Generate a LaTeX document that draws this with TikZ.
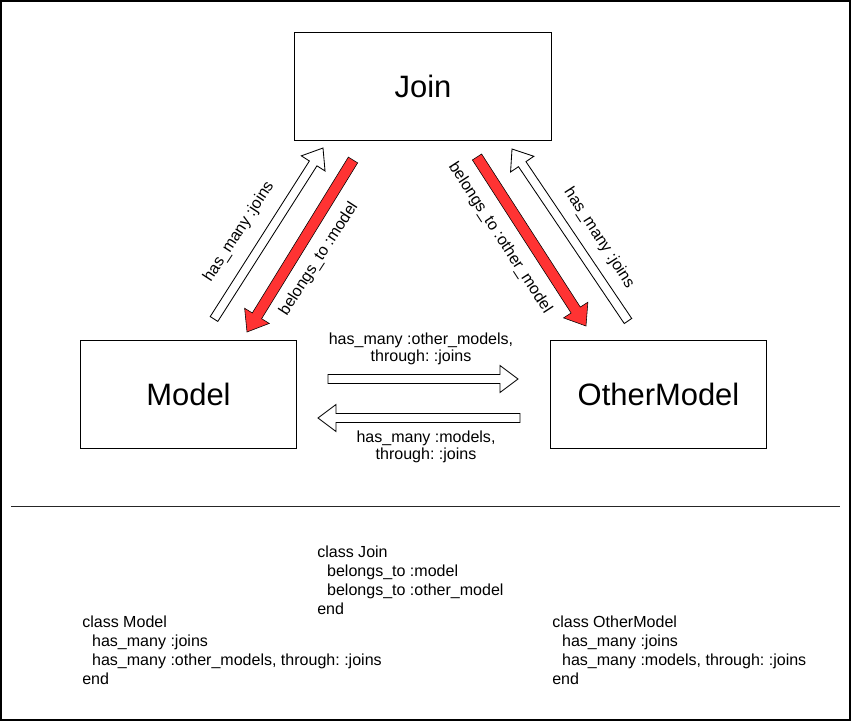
\documentclass[tikz,border=0pt]{standalone}
\usepackage{fontspec}
\setmainfont{Liberation Sans}
\usetikzlibrary{calc}
\definecolor{belongsred}{RGB}{255,51,51}
\frenchspacing

% block arrow: [style]{tail}{tip}{half shaft}{half head}{head length}
\newcommand{\blockarrow}[6][]{%
  \coordinate (headbase) at ($(#3)!#6!(#2)$);
  \draw[#1] ($(#2)!#4!90:(#3)$) -- ($(headbase)!#4!-90:(#2)$) -- ($(headbase)!#5!-90:(#2)$) -- (#3)
    -- ($(headbase)!#5!90:(#2)$) -- ($(headbase)!#4!90:(#2)$) -- ($(#2)!#4!-90:(#3)$) -- cycle;}

\begin{document}
\begin{tikzpicture}[x=0.025cm,y=-0.025cm,
    table/.style={draw,line width=0.7pt,minimum height=2.675cm,font=\fontsize{22}{26}\selectfont},
    rel/.style={font=\fontsize{11.4}{12}\selectfont,align=center,inner sep=0pt},
    code/.style={font=\fontsize{11.4}{13.5}\selectfont,align=left,inner sep=0pt,anchor=north west},
    hasmany/.style={draw,fill=white,line width=0.6pt,line join=miter},
    belongsto/.style={fill=belongsred}]
    \useasboundingbox (0,0) rectangle (851,721);
    \draw[line width=1.4pt] (1,1) rectangle (850,720);

    \node[table,minimum width=6.4cm] (join) at (423,86.5) {Join};
    \node[table,minimum width=5.375cm] (model) at (188.5,394.5) {Model};
    \node[table,minimum width=5.375cm] (other) at (658.5,394.5) {OtherModel};

    % arrow ends
    \coordinate (mjA) at (214,319); \coordinate (mjB) at (323,148);
    \coordinate (jmA) at (353,160); \coordinate (jmB) at (247,332);
    \coordinate (joA) at (477,157); \coordinate (joB) at (586,326);
    \coordinate (ojA) at (628,321); \coordinate (ojB) at (512,149);
    \coordinate (moA) at (328,379); \coordinate (moB) at (518,379);
    \coordinate (omA) at (520,418); \coordinate (omB) at (318,418);

    \blockarrow[hasmany]{mjA}{mjB}{3.2pt}{10pt}{13pt}
    \blockarrow[belongsto]{jmA}{jmB}{3.9pt}{10.3pt}{13.5pt}
    \blockarrow[belongsto]{joA}{joB}{3.9pt}{10.3pt}{13.5pt}
    \blockarrow[hasmany]{ojA}{ojB}{3.2pt}{10pt}{13pt}
    \blockarrow[hasmany]{moA}{moB}{3.2pt}{9.6pt}{12.8pt}
    \blockarrow[hasmany]{omA}{omB}{3.2pt}{9.6pt}{12.8pt}

    \node[rel,rotate=57] (mjlabel) at (239,232) {has\_many :joins};
    \node[rel,rotate=57] (jmlabel) at (319,259) {belongs\_to :model};
    \node[rel,rotate=-57] (jolabel) at (500,238) {belongs\_to :other\_model};
    \node[rel,rotate=-57] (ojlabel) at (599,238) {has\_many :joins};
    \node[rel] (molabel) at (421,349) {has\_many :other\_models,\\through: :joins};
    \node[rel] (omlabel) at (426,446.5) {has\_many :models,\\through: :joins};

    \draw[line width=0.7pt,black!85] (11,506)--(840,506);

    \node[code] (joincode) at (317,546) {class Join\\\hspace*{7pt}belongs\_to :model\\\hspace*{7pt}belongs\_to :other\_model\\end};
    \node[code] (modelcode) at (82,616) {class Model\\\hspace*{7pt}has\_many :joins\\\hspace*{7pt}has\_many :other\_models, through: :joins\\end};
    \node[code] (othercode) at (552,616) {class OtherModel\\\hspace*{7pt}has\_many :joins\\\hspace*{7pt}has\_many :models, through: :joins\\end};
\end{tikzpicture}
\end{document}
